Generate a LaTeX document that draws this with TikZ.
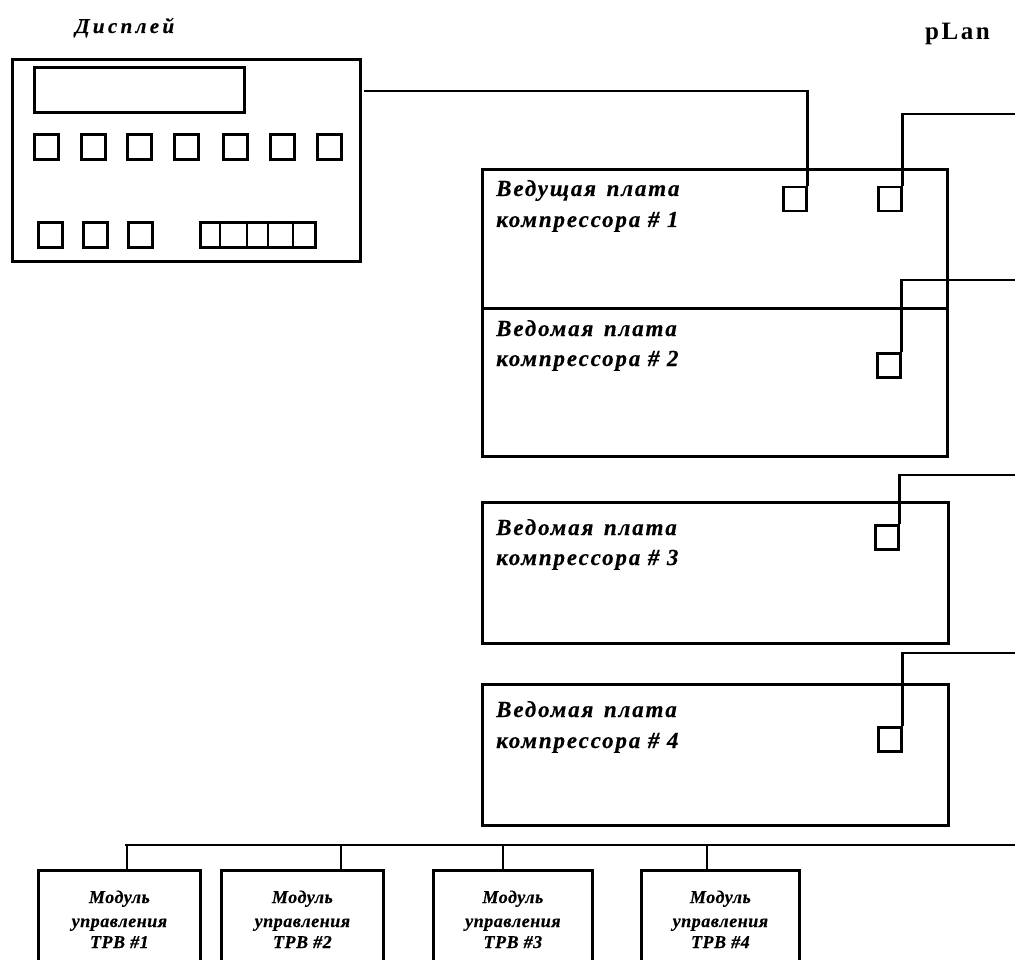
\documentclass[tikz,border=0pt]{standalone}
\usepackage{fontspec}
\setmainfont{Liberation Serif}
\newfontfamily\lblfont[LetterSpace=8, FakeBold=0.4]{Liberation Serif}
\newfontfamily\ttlfont[LetterSpace=16, FakeBold=0.4]{Liberation Serif}
\newfontfamily\modfont[LetterSpace=3, FakeBold=0.4]{Liberation Serif}
\newfontfamily\plfont[LetterSpace=10]{Liberation Serif}
\newcommand\wgap{\hspace{3pt}}
\begin{document}
\begin{tikzpicture}[x=1pt,y=-1pt,
  wire/.style={line width=2.6pt},
  frame/.style={draw, line width=2.8pt, inner sep=0pt, anchor=north west},
  port/.style={draw, line width=2.5pt, inner sep=0pt, anchor=north west, minimum width=23pt, minimum height=24pt},
  key/.style={draw, line width=2.6pt, inner sep=0pt, anchor=north west, minimum width=24pt, minimum height=25pt},
  lbl/.style={inner sep=0pt, anchor=base west, font=\lblfont\bfseries\itshape\fontsize{23}{27}\selectfont},
  modtxt/.style={inner sep=0pt, anchor=base, font=\modfont\bfseries\itshape\fontsize{18}{22}\selectfont},
  ]
\useasboundingbox (0,0) rectangle (1015,960);

% titles
\node[inner sep=0pt, anchor=base west, font=\ttlfont\bfseries\itshape\fontsize{21}{25}\selectfont] (ttl) at (75,33) {Дисплей};
\node[inner sep=0pt, anchor=base west, font=\plfont\bfseries\fontsize{25}{29}\selectfont] (plan) at (925,40) {pLan};

% display unit
\node[frame, minimum width=348pt, minimum height=202pt] (disp) at (11,58) {};
\node[frame, line width=2.6pt, minimum width=210pt, minimum height=45pt] (scr) at (33,66) {};
\foreach \x [count=\i] in {33,80,126,173,222,269,316}
  \node[key] (k\i) at (\x,133) {};
\foreach \x [count=\i] in {37,82,127}
  \node[key] (b\i) at (\x,221) {};
\node[frame, line width=2.6pt, minimum width=115pt, minimum height=25pt] (strip) at (199,221) {};
\foreach \x in {220,247,268,293}
  \draw[wire] (\x,221) -- (\x,246);

% controller boards
\node[frame, minimum width=465pt, minimum height=139pt] (bd1) at (481,168) {};
\node[frame, minimum width=465pt, minimum height=148pt] (bd2) at (481,307) {};
\node[frame, minimum width=466pt, minimum height=141pt] (bd3) at (481,501) {};
\node[frame, minimum width=466pt, minimum height=141pt] (bd4) at (481,683) {};

\node[lbl] (l1a) at (496,196) {Ведущая\wgap{} плата};
\node[lbl] (l1b) at (496,227) {компрессора \# 1};
\node[lbl] (l2a) at (496,336) {Ведомая\wgap{} плата};
\node[lbl] (l2b) at (496,366) {компрессора \# 2};
\node[lbl] (l3a) at (496,535) {Ведомая\wgap{} плата};
\node[lbl] (l3b) at (496,565) {компрессора \# 3};
\node[lbl] (l4a) at (496,717) {Ведомая\wgap{} плата};
\node[lbl] (l4b) at (496,748) {компрессора \# 4};

% ports
\node[port] (p1a) at (782,186) {};
\node[port] (p1b) at (877,186) {};
\node[port] (p2) at (876,352) {};
\node[port] (p3) at (874,524) {};
\node[port] (p4) at (877,726) {};

% pLan wires
\coordinate (d0) at (364,91);
\coordinate (e1) at (1016,114);
\coordinate (e2) at (1016,280);
\coordinate (e3) at (1016,475);
\coordinate (e4) at (1016,653);
\draw[wire] (d0) -| (p1a.north east);
\draw[wire] (p1b.north east) |- (e1);
\draw[wire] (p2.north east) |- (e2);
\draw[wire] (p3.north east) |- (e3);
\draw[wire] (p4.north east) |- (e4);

% bus to modules
\coordinate (bus0) at (125,845);
\coordinate (bus1) at (1016,845);
\draw[wire] (bus0) -- (bus1);
\node[frame, minimum width=162pt, minimum height=130pt] (m1) at (37,869) {};
\node[frame, minimum width=162pt, minimum height=130pt] (m2) at (220,869) {};
\node[frame, minimum width=159pt, minimum height=130pt] (m3) at (432,869) {};
\node[frame, minimum width=158pt, minimum height=130pt] (m4) at (640,869) {};
\foreach \x [count=\i] in {127,341,503,707} {
  \coordinate (t\i) at (\x,845);
  \draw[wire] (t\i) -- (t\i |- m\i.north);
}
\foreach \i/\n in {1/1,2/2,3/3,4/4} {
  \node[modtxt] (ma\i) at ([yshift=-34pt]m\i.north) {Модуль};
  \node[modtxt] (mb\i) at ([yshift=-58pt]m\i.north) {управления};
  \node[modtxt] (mc\i) at ([yshift=-79pt]m\i.north) {ТРВ \#\n};
}
\end{tikzpicture}
\end{document}
